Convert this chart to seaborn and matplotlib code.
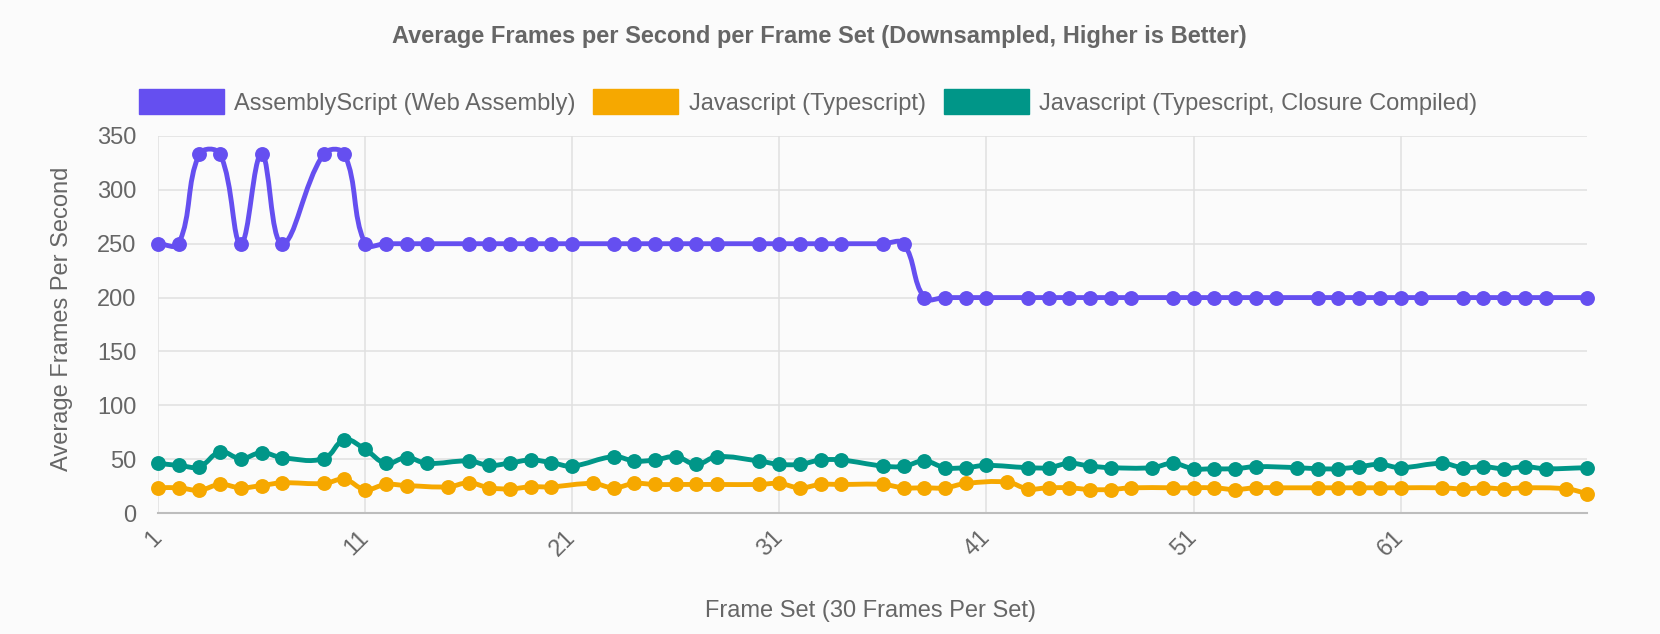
import numpy as np
import pandas as pd
import matplotlib
matplotlib.use("Agg")
import matplotlib.pyplot as plt
from matplotlib.path import Path
from matplotlib.patches import PathPatch, Patch
import seaborn as sns

# data (x = frame set index, 60 downsampled points per series)
asc_x = [1, 2, 3, 4, 5, 6, 7, 9, 10, 11,
         12, 13, 14, 16, 17, 18, 19, 20, 21, 23, 24, 25, 26, 27, 28, 30, 31, 32, 33, 34, 36, 37,
         38, 39, 40, 41, 43, 44, 45, 46, 47, 48, 50, 51, 52, 53, 54, 55, 57, 58, 59, 60, 61, 62,
         64, 65, 66, 67, 68, 70]
asc_y = [250, 250, 333.3, 333.3, 250, 333.3, 250, 333.3, 333.3, 250,
         250, 250, 250, 250, 250, 250, 250, 250, 250, 250, 250, 250, 250, 250, 250, 250, 250,
         250, 250, 250, 250, 250,
         200, 200, 200, 200, 200, 200, 200, 200, 200, 200, 200, 200, 200, 200, 200, 200, 200,
         200, 200, 200, 200, 200, 200, 200, 200, 200, 200, 200]

ts_x = [1, 2, 3, 4, 5, 6, 7, 9, 10, 11, 12, 13, 15, 16, 17, 18, 19, 20, 22, 23, 24, 25, 26,
        27, 28, 30, 31, 32, 33, 34, 36, 37, 38, 39, 40, 42, 43, 44, 45, 46, 47, 48, 50, 51, 52,
        53, 54, 55, 57, 58, 59, 60, 61, 63, 64, 65, 66, 67, 69, 70]
ts_y = [23.4, 23.4, 21.2, 26.5, 23.4, 25.5, 28.0, 27.4, 31.2, 21.8, 26.5, 25.5, 24.3, 28.0,
        23.4, 22.4, 24.3, 24.3, 27.4, 23.4, 27.4, 26.5, 26.5, 26.5, 26.5, 26.5, 27.4, 23.4,
        26.5, 26.5, 26.5, 23.4, 23.4, 23.4, 27.4, 28.7, 22.4, 23.4, 23.4, 21.8, 21.8, 23.4,
        23.4, 23.4, 23.4, 21.8, 23.4, 23.4, 23.4, 23.4, 23.4, 23.4, 23.4, 23.4, 22.4, 23.4,
        22.4, 23.4, 22.4, 18.1]

cc_x = [1, 2, 3, 4, 5, 6, 7, 9, 10, 11, 12, 13, 14, 16, 17, 18, 19, 20, 21, 23, 24, 25, 26,
        27, 28, 30, 31, 32, 33, 34, 36, 37, 38, 39, 40, 41, 43, 44, 45, 46, 47, 49, 50, 51, 52,
        53, 54, 56, 57, 58, 59, 60, 61, 63, 64, 65, 66, 67, 68, 70]
cc_y = [46.1, 44.2, 43.0, 56.7, 50.5, 56.0, 51.4, 50.5, 67.9, 59.2, 46.1, 51.4, 46.1, 48.3,
        44.2, 46.4, 49.2, 46.7, 43.6, 52.3, 48.3, 49.2, 52.3, 45.2, 52.3, 48.3, 45.2, 45.2,
        49.2, 49.2, 43.6, 43.3, 48.3, 42.1, 42.1, 44.2, 42.1, 42.1, 46.1, 43.6, 42.1, 42.1,
        46.1, 41.1, 41.1, 41.1, 43.0, 42.1, 41.1, 41.1, 43.0, 45.2, 42.1, 46.1, 42.1, 43.0,
        41.1, 43.0, 41.1, 42.1]

series_names = ["AssemblyScript (Web Assembly)", "Javascript (Typescript)",
                "Javascript (Typescript, Closure Compiled)"]
series_colors = ["#654ff0", "#f6a800", "#009688"]
x_ticks = [1, 11, 21, 31, 41, 51, 61]
y_ticks = [0, 50, 100, 150, 200, 250, 300, 350]

W, H = 1660, 634
L, R, T, B = 158, 1587, 136, 513
BG = "#fbfbfb"
TXT = "#666666"
GRID = "#e0e0e0"

sns.set_style("white")
plt.rcParams["font.family"] = ["Liberation Sans", "DejaVu Sans"]

fig = plt.figure(figsize=(W / 100, H / 100), dpi=100, facecolor=BG)
ax = fig.add_axes([L / W, 1 - B / H, (R - L) / W, (B - T) / H])
ax.set_facecolor(BG)
ax.set_xlim(1, 70)
ax.set_ylim(0, 350)

# pixels per data unit, used for the chart.js style bezier smoothing
sx = (R - L) / 69.0
sy = (B - T) / 350.0


def spline_path(xs, ys, t=0.4):
    px = np.asarray(xs, float) * sx
    py = np.asarray(ys, float) * sy
    n = len(px)
    cprev, cnext = [], []
    for i in range(n):
        a, c = max(i - 1, 0), min(i + 1, n - 1)
        d01 = np.hypot(px[i] - px[a], py[i] - py[a])
        d12 = np.hypot(px[c] - px[i], py[c] - py[i])
        tot = d01 + d12
        fa = t * (d01 / tot if tot else 0)
        fb = t * (d12 / tot if tot else 0)
        dx, dy = px[c] - px[a], py[c] - py[a]
        cprev.append((px[i] - fa * dx, py[i] - fa * dy))
        cnext.append((px[i] + fb * dx, py[i] + fb * dy))
    verts = [(px[0], py[0])]
    codes = [Path.MOVETO]
    for i in range(1, n):
        verts += [cnext[i - 1], cprev[i], (px[i], py[i])]
        codes += [Path.CURVE4] * 3
    verts = np.array(verts) / [sx, sy]
    return Path(verts, codes)


data = [(asc_x, asc_y), (ts_x, ts_y), (cc_x, cc_y)]
# chart.js paints the last dataset first
for k in [2, 1, 0]:
    xs, ys = data[k]
    df = pd.DataFrame({"frame_set": xs, "fps": ys})
    ax.add_patch(PathPatch(spline_path(xs, ys), fill=False, edgecolor=series_colors[k],
                           lw=3.5, capstyle="round", joinstyle="round", zorder=3))
    sns.scatterplot(data=df, x="frame_set", y="fps", color=series_colors[k], s=115,
                    linewidth=0, ax=ax, zorder=4, clip_on=False, legend=False)

ax.set_xticks(x_ticks)
ax.set_yticks(y_ticks)
ax.set_xticklabels([str(v) for v in x_ticks])
ax.set_yticklabels([str(v) for v in y_ticks])
ax.grid(True, color=GRID, lw=1.1)
ax.set_axisbelow(True)
ax.tick_params(axis="both", length=14.5, width=1.1, color=GRID, labelsize=17,
               labelcolor=TXT, pad=1)
plt.setp(ax.get_xticklabels(), rotation=45, ha="right", va="center", rotation_mode="anchor")
for s in ["top", "right", "left"]:
    ax.spines[s].set_visible(False)
ax.spines["bottom"].set_color("#bdbdbd")
ax.spines["bottom"].set_linewidth(1.5)
ax.set_xlabel("")
ax.set_ylabel("")

fig.text(819 / W, 1 - 37 / H,
         "Average Frames per Second per Frame Set (Downsampled, Higher is Better)",
         ha="center", va="center", fontsize=17, fontweight="bold", color=TXT)
fig.text(62 / W, 1 - 319 / H, "Average Frames Per Second", rotation=90,
         ha="center", va="center", fontsize=17, color=TXT)
fig.text(870 / W, 1 - 611 / H, "Frame Set (30 Frames Per Set)",
         ha="center", va="center", fontsize=17, color=TXT)

handles = [Patch(facecolor=c, edgecolor=c) for c in series_colors]
fig.legend(handles, series_names, loc="center", ncol=3, frameon=False,
           bbox_to_anchor=(808 / W, 1 - 102 / H), fontsize=17, labelcolor=TXT,
           handlelength=3.6, handleheight=1.27, handletextpad=0.45, columnspacing=0.75,
           borderpad=0, borderaxespad=0)

fig.savefig("out.png", dpi=100, facecolor=BG)
